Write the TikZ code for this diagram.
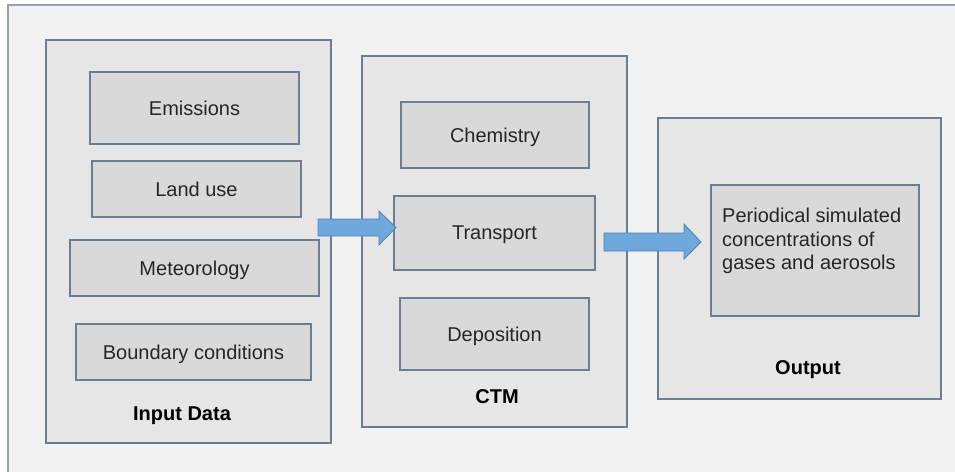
\documentclass[tikz,border=0pt]{standalone}
\usepackage{fontspec}
\setmainfont{Liberation Sans}
\definecolor{framefill}{HTML}{F2F2F2}
\definecolor{groupfill}{HTML}{E6E6E6}
\definecolor{itemfill}{HTML}{D9D9D9}
\definecolor{edgecol}{HTML}{6F7D90}
\definecolor{frameedge}{HTML}{98A2B0}
\definecolor{arrowfill}{HTML}{6FA8DC}
\definecolor{arrowedge}{HTML}{4F81B3}
\tikzset{
  group/.style={draw=edgecol, fill=groupfill, line width=1.1pt, inner sep=0pt},
  item/.style={draw=edgecol, fill=itemfill, line width=1.1pt, inner sep=0pt,
    text depth=0pt, font=\fontsize{20}{23.5}\selectfont, text=black!85},
  grouplabel/.style={font=\fontsize{20}{23.5}\selectfont\bfseries, inner sep=0pt, text depth=0pt},
  blockarrow/.style={fill=arrowfill, draw=arrowedge, line width=0.8pt, line join=miter}
}
\begin{document}
\begin{tikzpicture}[x=1pt, y=-1pt]
  \useasboundingbox (0,0) rectangle (955,471);
  \fill[white] (0,0) rectangle (955,471);
  % outer frame, running off the right and bottom
  \begin{scope}
    \clip (0,0) rectangle (955,471);
    \draw[fill=framefill, draw=frameedge, line width=1.3pt] (8,5) rectangle (965,480);
  \end{scope}

  % Input Data group
  \node[group, minimum width=285pt, minimum height=403pt] (input) at (188.5,241.5) {};
  \node[item, minimum width=209pt, minimum height=72pt] (emis) at (194.5,108) {Emissions};
  \node[item, minimum width=209pt, minimum height=56pt] (land) at (196.5,189) {Land use};
  \node[item, minimum width=249pt, minimum height=56pt] (meteo) at (194.5,268) {Meteorology};
  \node[item, minimum width=235pt, minimum height=56pt] (bound) at (193.5,352) {Boundary conditions};
  \node[grouplabel] (inlab) at (182,414) {Input Data};

  % CTM group
  \node[group, minimum width=265pt, minimum height=371pt] (ctm) at (494.5,241.5) {};
  \node[item, minimum width=188pt, minimum height=66pt] (chem) at (495,135) {Chemistry};
  \node[item, minimum width=201pt, minimum height=74pt] (trans) at (494.5,233) {Transport};
  \node[item, minimum width=189pt, minimum height=72pt] (depo) at (494.5,334) {Deposition};
  \node[grouplabel] (ctmlab) at (497,397) {CTM};

  % Output group
  \node[group, minimum width=283pt, minimum height=281pt] (output) at (799.5,258.5) {};
  \node[item, minimum width=208pt, minimum height=131pt] (conc) at (815,250.5) {};
  \node[anchor=north west, inner sep=0pt, align=left,
        font=\fontsize{20}{23.5}\selectfont, text=black!85] (conctext) at (722,208)
        {Periodical simulated\\concentrations of\\gases and aerosols};
  \node[grouplabel] (outlab) at (808,368) {Output};

  % block arrows between the groups
  \draw[blockarrow] (318,219) -- (379,219) -- (379,211) -- (396,227.5)
        -- (379,245) -- (379,236) -- (318,236) -- cycle;
  \draw[blockarrow] (604,233) -- (684,233) -- (684,224) -- (701,242)
        -- (684,259) -- (684,251) -- (604,251) -- cycle;
\end{tikzpicture}
\end{document}
